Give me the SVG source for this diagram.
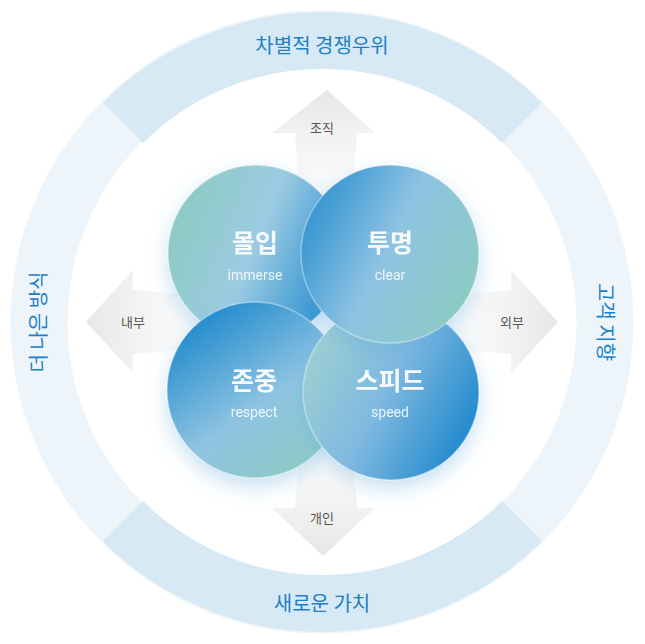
<svg xmlns="http://www.w3.org/2000/svg" width="645" height="644" viewBox="0 0 645 644">
<defs>
<style>
.ring{font-family:"Noto Sans CJK KR","Noto Sans",sans-serif;font-size:20px;fill:#1c80c6;text-anchor:middle}
.arr{font-family:"Noto Sans CJK KR","Noto Sans",sans-serif;font-size:13px;fill:#555;text-anchor:middle}
.t{font-family:"Noto Sans CJK KR","Noto Sans",sans-serif;font-size:25px;font-weight:700;fill:#fff;fill-opacity:.92;text-anchor:middle}
.s{font-family:"Roboto","Noto Sans",sans-serif;font-size:14px;fill:#fff;fill-opacity:.85;text-anchor:middle}
.c{stroke:#ffffff;stroke-opacity:.35;stroke-width:1.5}
</style>
<linearGradient id="gu" x1="0" y1="0" x2="0" y2="1"><stop offset="0" stop-color="#e6e6e6"/><stop offset="1" stop-color="#f6f6f6" stop-opacity=".3"/></linearGradient>
<linearGradient id="gd" x1="0" y1="1" x2="0" y2="0"><stop offset="0" stop-color="#e6e6e6"/><stop offset="1" stop-color="#f6f6f6" stop-opacity=".3"/></linearGradient>
<linearGradient id="gl" x1="0" y1="0" x2="1" y2="0"><stop offset="0" stop-color="#e6e6e6"/><stop offset="1" stop-color="#f6f6f6" stop-opacity=".3"/></linearGradient>
<linearGradient id="gr" x1="1" y1="0" x2="0" y2="0"><stop offset="0" stop-color="#e6e6e6"/><stop offset="1" stop-color="#f6f6f6" stop-opacity=".3"/></linearGradient>
<linearGradient id="g1" x1="0" y1="0.4" x2="1" y2="0.8"><stop offset="0" stop-color="#8dcbc3"/><stop offset="0.45" stop-color="#9ccbe3"/><stop offset="1" stop-color="#1886cb"/></linearGradient>
<linearGradient id="g2" x1="0" y1="0.2" x2="1" y2="0.7"><stop offset="0" stop-color="#2a8fd0"/><stop offset="0.5" stop-color="#8ec3e2"/><stop offset="1" stop-color="#8ccbc2"/></linearGradient>
<linearGradient id="g3" x1="0.2" y1="0" x2="0.9" y2="1"><stop offset="0" stop-color="#1886cb"/><stop offset="0.55" stop-color="#8fc4e2"/><stop offset="1" stop-color="#8dcbc0"/></linearGradient>
<linearGradient id="g4" x1="0" y1="0.3" x2="1" y2="0.8"><stop offset="0" stop-color="#9dd0d2"/><stop offset="0.45" stop-color="#7fb9e0"/><stop offset="1" stop-color="#1584cb"/></linearGradient>
<filter id="sh" x="-30%" y="-30%" width="160%" height="160%"><feDropShadow dx="0" dy="8" stdDeviation="10" flood-color="#5aa6dd" flood-opacity=".35"/></filter>
</defs>
<rect width="645" height="644" fill="#fff"/>
<g id="ring">
<circle cx="322" cy="322" r="283" fill="none" stroke="#edf5fb" stroke-width="57"/>
<path d="M122.9 122.9 A283 283 0 0 1 522.1 122.9" fill="none" stroke="#d7e9f4" stroke-width="57"/>
<path d="M122.9 521.1 A283 283 0 0 0 522.1 521.1" fill="none" stroke="#d7e9f4" stroke-width="57"/>
<text class="ring" x="322" y="53">차별적 경쟁우위</text>
<text class="ring" x="322" y="611">새로운 가치</text>
<text class="ring" transform="translate(46,322) rotate(-90)">더 나은 방식</text>
<text class="ring" transform="translate(598,322) rotate(90)">고객 지향</text>
</g>
<g id="connectors">
<path d="M327 90 L375 133 L357 133 L352 200 L300 200 L295 133 L272 133 Z" fill="url(#gu)"/>
<path d="M323 556 L375 508 L357 508 L352 440 L300 440 L295 508 L272 508 Z" fill="url(#gd)"/>
<path d="M86 322 L133 270 L133 290 L200 296 L200 348 L133 354 L133 373 Z" fill="url(#gl)"/>
<path d="M558 322 L511 270 L511 290 L444 296 L444 348 L511 354 L511 373 Z" fill="url(#gr)"/>
<text class="arr" x="322" y="133">조직</text>
<text class="arr" x="322" y="523">개인</text>
<text class="arr" x="133" y="327">내부</text>
<text class="arr" x="512" y="327">외부</text>
</g>
<g id="n1" filter="url(#sh)"><circle class="c" cx="256" cy="253" r="88" fill="url(#g1)"/><text class="t" x="255" y="252">몰입</text><text class="s" x="255" y="280">immerse</text></g>
<g id="n3" filter="url(#sh)"><circle class="c" cx="255" cy="390" r="88" fill="url(#g3)"/><text class="t" x="254" y="390">존중</text><text class="s" x="254" y="417">respect</text></g>
<g id="n4" filter="url(#sh)"><circle class="c" cx="391" cy="392" r="88" fill="url(#g4)"/><text class="t" x="390" y="390">스피드</text><text class="s" x="390" y="417">speed</text></g>
<g id="n2" filter="url(#sh)"><circle class="c" cx="390" cy="254" r="89" fill="url(#g2)"/><text class="t" x="390" y="252">투명</text><text class="s" x="390" y="280">clear</text></g>
</svg>
